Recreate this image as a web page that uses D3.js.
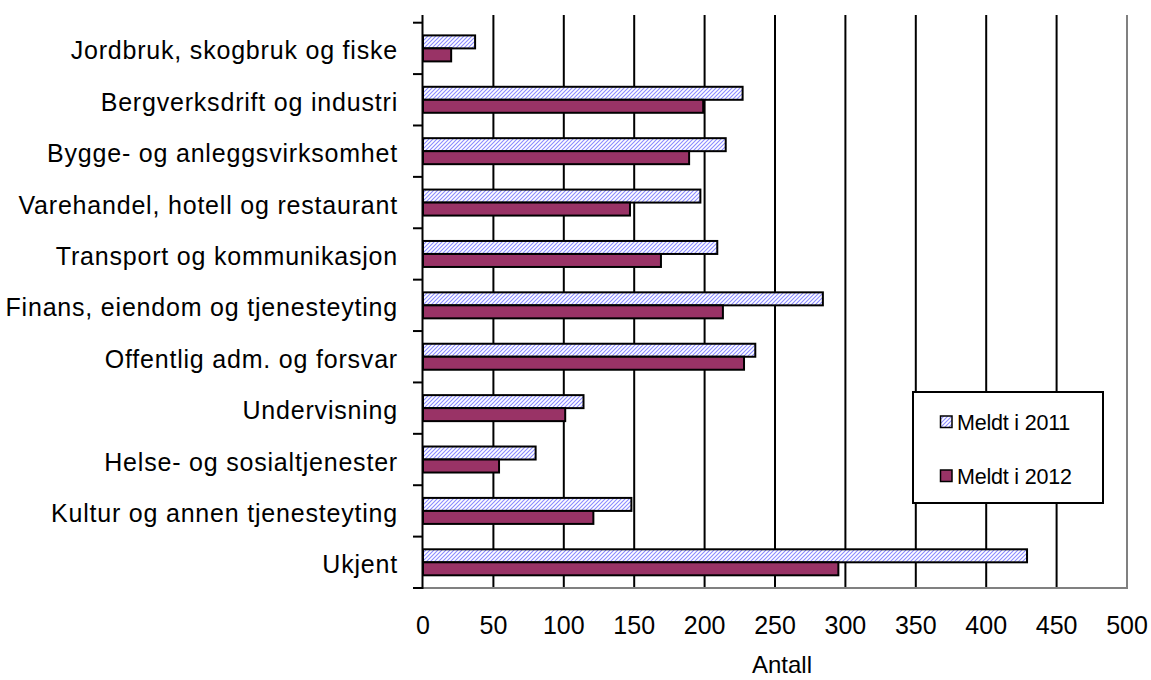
<!DOCTYPE html>
<html><head><meta charset="utf-8">
<script src="https://cdn.jsdelivr.net/npm/d3@7"></script>
<style>body{margin:0;background:#fff}svg{display:block}text{font-family:"Liberation Sans",Arial,sans-serif;fill:#000}</style>
</head><body><svg id="c" width="1151" height="680"></svg>
<script>
const categories = ["Jordbruk, skogbruk og fiske","Bergverksdrift og industri","Bygge- og anleggsvirksomhet","Varehandel,  hotell og restaurant","Transport og kommunikasjon","Finans, eiendom og tjenesteyting","Offentlig adm. og forsvar","Undervisning","Helse- og sosialtjenester","Kultur og annen tjenesteyting","Ukjent"];
const meldt2011 = [37, 227, 215, 197, 209, 284, 236, 114, 80, 148, 429];
const meldt2012 = [20, 199, 189, 147, 169, 213, 228, 101, 54, 121, 295];
const seriesNames = ["Meldt i 2011", "Meldt i 2012"];
const xTicks = [0,50,100,150,200,250,300,350,400,450,500];
const xTitle = "Antall";

const svg = d3.select("#c");
const defs = svg.append("defs");
const pat = defs.append("pattern").attr("id","hatch").attr("patternUnits","userSpaceOnUse")
  .attr("width",4).attr("height",4);
pat.append("rect").attr("width",4).attr("height",4).attr("fill","#fff");
pat.append("path").attr("d","M-1,1 l2,-2 M0,4 l4,-4 M3,5 l2,-2").attr("stroke","#8a8aff").attr("stroke-width",1.1);

const x = d3.scaleLinear().domain([0,500]).range([423,1127]);
const y = d3.scaleBand().domain(categories).range([22.7,588]);
const plotTop = 15, plotBottom = 588;

// gridlines
svg.append("g").selectAll("line").data(xTicks.filter(t=>t>0&&t<500)).join("line")
  .attr("x1",d=>x(d)).attr("x2",d=>x(d)).attr("y1",plotTop).attr("y2",plotBottom)
  .attr("stroke","#000").attr("stroke-width",2);
// right & bottom borders
svg.append("line").attr("x1",x(500)).attr("x2",x(500)).attr("y1",plotTop).attr("y2",plotBottom+1).attr("stroke","#808080").attr("stroke-width",2);
svg.append("line").attr("x1",x(0)).attr("x2",x(500)+1).attr("y1",plotBottom).attr("y2",plotBottom).attr("stroke","#808080").attr("stroke-width",2);

// bars
const bh = 13;
const g = svg.append("g");
function off(i){ return y(categories[i]) + y.bandwidth()/2; }
g.selectAll(".b11").data(meldt2011).join("rect")
  .attr("x",x(0)).attr("y",(d,i)=>off(i)-bh).attr("width",d=>x(d)-x(0)).attr("height",bh)
  .attr("fill","url(#hatch)").attr("stroke","#000").attr("stroke-width",2);
g.selectAll(".b12").data(meldt2012).join("rect")
  .attr("x",x(0)).attr("y",(d,i)=>off(i)).attr("width",d=>x(d)-x(0)).attr("height",bh)
  .attr("fill","#993366").attr("stroke","#000").attr("stroke-width",2);

// left axis
svg.append("line").attr("x1",x(0)-0.5).attr("x2",x(0)-0.5).attr("y1",plotTop).attr("y2",plotBottom+1).attr("stroke","#000").attr("stroke-width",2);
const yTicks = categories.map(c=>y(c)).concat([588]);
svg.append("g").selectAll("line").data(yTicks).join("line")
  .attr("x1",413).attr("x2",x(0)).attr("y1",d=>d).attr("y2",d=>d).attr("stroke","#000").attr("stroke-width",2);

// category labels
svg.append("g").selectAll("text").data(categories).join("text")
  .attr("x",398).attr("y",c=>y(c)+y.bandwidth()/2+11).attr("text-anchor","end")
  .attr("font-size",25).attr("letter-spacing",0.8).text(c=>c);

// x tick labels
svg.append("g").selectAll("text").data(xTicks).join("text")
  .attr("x",d=>x(d)).attr("y",634).attr("text-anchor","middle").attr("font-size",25).text(d=>d);
svg.append("text").attr("x",782).attr("y",673).attr("text-anchor","middle").attr("font-size",24).text(xTitle);

// legend
const lg = svg.append("g");
lg.append("rect").attr("x",913).attr("y",392).attr("width",190).attr("height",111).attr("fill","#fff").attr("stroke","#000").attr("stroke-width",2);
const lys = [422, 476];
lg.selectAll(".sw").data([0,1]).join("rect")
  .attr("x",940.5).attr("y",i=>lys[i]-6).attr("width",11.5).attr("height",11.5)
  .attr("fill",i=>i===0?"url(#hatch)":"#993366").attr("stroke","#000").attr("stroke-width",1.5);
lg.selectAll("text").data(seriesNames).join("text")
  .attr("x",957).attr("y",(d,i)=>lys[i]+8).attr("font-size",21.5).attr("letter-spacing",-0.2).text(d=>d);
</script></body></html>
